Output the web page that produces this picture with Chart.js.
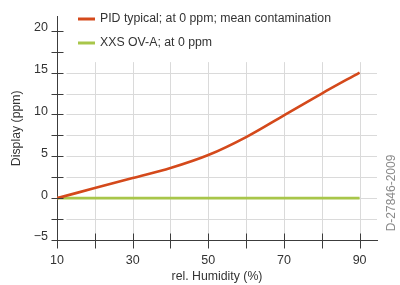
<!DOCTYPE html>
<html>
<head>
<meta charset="utf-8">
<script src="https://cdn.jsdelivr.net/npm/chart.js@4.4.1/dist/chart.umd.min.js"></script>
<style>
  html, body { margin: 0; padding: 0; background: #fff; }
  #wrap { width: 400px; height: 285px; }
</style>
</head>
<body>
<div id="wrap"><canvas id="chart" width="400" height="285"></canvas></div>
<script>
// humidity (%) and sensor display (ppm)
const humidity = [10, 20, 30, 40, 50, 60, 70, 80, 90];
const pidTypical = [0, 1.2, 2.4, 3.6, 5.15, 7.3, 9.9, 12.5, 15];
const xxsOvA = [0, 0, 0, 0, 0, 0, 0, 0, 0];

const seriesLabels = ['PID typical; at 0 ppm; mean contamination', 'XXS OV-A; at 0 ppm'];
const seriesColors = ['#d4491b', '#a8c64a'];

const xTickLabels = [10, 30, 50, 70, 90];
const yTickLabels = [-5, 0, 5, 10, 15, 20];
const xMinorTicks = [10, 20, 30, 40, 50, 60, 70, 80, 90];
const yMinorTicks = [-5, -2.5, 0, 2.5, 5, 7.5, 10, 12.5, 15, 17.5, 20];
const xGrid = [20, 30, 40, 50, 60, 70, 80, 90];
const yGrid = [-2.5, 0, 2.5, 5, 7.5, 10, 12.5, 15];

const FONT = 'Liberation Sans, Arial, sans-serif';
const AXIS = '#3c3c3c';

const toPoints = ys => humidity.map((h, i) => ({ x: h, y: ys[i] }));

// grid lines and tick marks, placed with the chart's own scales
const axisDecor = {
    id: 'axisDecor',
    beforeDatasetsDraw(chart) {
        const { ctx, scales: { x, y } } = chart;
        ctx.save();
        ctx.strokeStyle = '#dadada';
        ctx.lineWidth = 1;
        yGrid.forEach(v => {
            const py = Math.round(y.getPixelForValue(v)) + 0.5;
            ctx.beginPath();
            ctx.moveTo(x.getPixelForValue(12.5), py);
            ctx.lineTo(x.right, py);
            ctx.stroke();
        });
        xGrid.forEach(v => {
            const px = Math.round(x.getPixelForValue(v)) + 0.5;
            ctx.beginPath();
            ctx.moveTo(px, y.getPixelForValue(16.25));
            ctx.lineTo(px, y.bottom);
            ctx.stroke();
        });
        ctx.restore();
    },
    afterDraw(chart) {
        const { ctx, scales: { x, y } } = chart;
        ctx.save();
        ctx.strokeStyle = AXIS;
        ctx.lineWidth = 1;
        const ax = Math.round(x.left) + 0.5;
        yMinorTicks.forEach(v => {
            const py = Math.round(y.getPixelForValue(v)) + 0.5;
            ctx.beginPath();
            ctx.moveTo(ax - 6, py);
            ctx.lineTo(ax + 6, py);
            ctx.stroke();
        });
        const ay = Math.round(y.bottom) + 0.5;
        xMinorTicks.forEach(v => {
            const px = Math.round(x.getPixelForValue(v)) + 0.5;
            ctx.beginPath();
            ctx.moveTo(px, ay - 7);
            ctx.lineTo(px, ay + 8);
            ctx.stroke();
        });

        // legend
        ctx.font = '12.3px ' + FONT;
        ctx.textBaseline = 'middle';
        chart.data.datasets.forEach((ds, i) => {
            const ly = 19 + i * 24;
            ctx.strokeStyle = ds.borderColor;
            ctx.lineWidth = 3;
            ctx.beginPath();
            ctx.moveTo(78, ly);
            ctx.lineTo(95, ly);
            ctx.stroke();
            ctx.fillStyle = '#333';
            ctx.fillText(ds.label, 100, ly);
        });

        // drawing number
        ctx.translate(392, 193);
        ctx.rotate(-Math.PI / 2);
        ctx.textAlign = 'center';
        ctx.fillStyle = '#8a8a8a';
        ctx.font = '12px ' + FONT;
        ctx.fillText('D-27846-2009', 0, 0);
        ctx.restore();
    }
};

new Chart(document.getElementById('chart'), {
    type: 'line',
    data: {
        datasets: [
            {
                label: seriesLabels[0],
                data: toPoints(pidTypical),
                borderColor: seriesColors[0],
                borderWidth: 2.6,
                pointRadius: 0,
                tension: 0.35
            },
            {
                label: seriesLabels[1],
                data: toPoints(xxsOvA),
                borderColor: seriesColors[1],
                borderWidth: 2.8,
                pointRadius: 0
            }
        ]
    },
    options: {
        responsive: false,
        animation: false,
        layout: { padding: { top: 8, right: 23, left: 0, bottom: 0 } },
        plugins: { legend: { display: false }, tooltip: { enabled: false } },
        scales: {
            x: {
                type: 'linear',
                min: 10,
                max: 94.6,
                afterBuildTicks: s => { s.ticks = xTickLabels.map(v => ({ value: v })); },
                afterFit: s => { s.height = 45; },
                grid: { display: false, drawTicks: false },
                border: { display: true, color: AXIS, width: 1 },
                ticks: { color: '#333', font: { family: FONT, size: 12.5 }, padding: 13, maxRotation: 0 },
                title: {
                    display: true,
                    text: 'rel. Humidity (%)',
                    color: '#333',
                    font: { family: FONT, size: 12.3 },
                    padding: { top: 0, bottom: 1 }
                }
            },
            y: {
                min: -5,
                max: 21.7,
                afterBuildTicks: s => { s.ticks = yTickLabels.map(v => ({ value: v })); },
                afterFit: s => { s.width = 57; },
                grid: { display: false, drawTicks: false },
                border: { display: true, color: AXIS, width: 1 },
                ticks: {
                    color: '#333',
                    font: { family: FONT, size: 12.5 },
                    padding: 9,
                    labelOffset: -3,
                    callback: v => v < 0 ? '\u2212' + (-v) : String(v)
                },
                title: {
                    display: true,
                    text: 'Display (ppm)',
                    color: '#333',
                    font: { family: FONT, size: 12.3 },
                    padding: { top: 9, bottom: 0 }
                }
            }
        }
    },
    plugins: [axisDecor]
});
</script>
</body>
</html>
